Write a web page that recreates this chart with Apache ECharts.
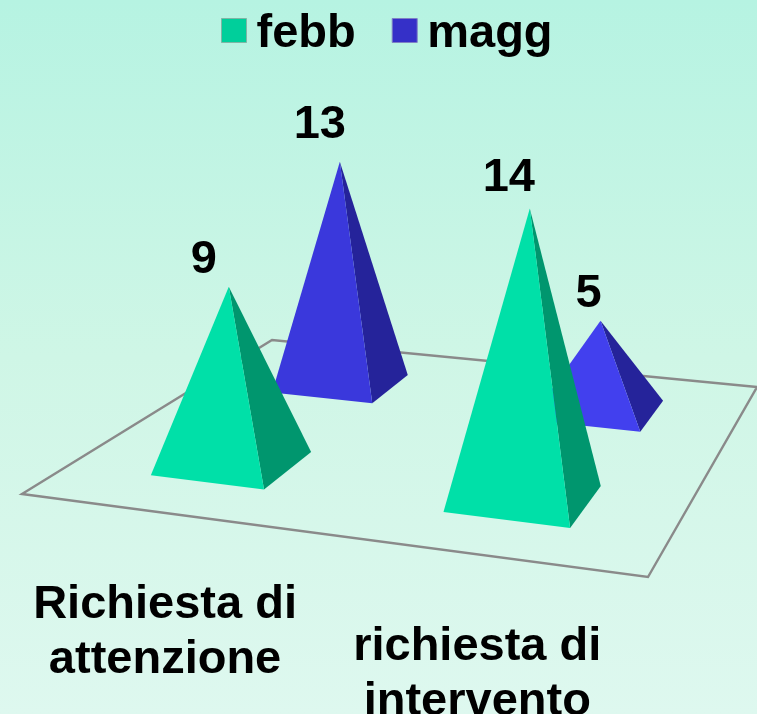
<!DOCTYPE html>
<html>
<head>
<meta charset="utf-8">
<style>html,body{margin:0;padding:0;background:#cff6e6}#c{width:757px;height:714px}</style>
<script src="https://cdn.jsdelivr.net/npm/echarts@6/dist/echarts.min.js"></script>
</head>
<body>
<div id="c"></div>
<script>
var categories = ['Richiesta di\nattenzione', 'richiesta di\nintervento'];
var febb = [9, 14];
var magg = [13, 5];

var chart = echarts.init(document.getElementById('c'), null, {renderer: 'canvas'});
var FONT = 'bold 47px "Liberation Sans", Arial, sans-serif';

// perspective floor: unit square -> picture quad
var Q = {fl: [22, 494], fr: [648, 577], br: [757, 387], bl: [272, 340]};
function makeProjection(q) {
  var dx1 = q.fr[0] - q.br[0], dx2 = q.bl[0] - q.br[0], sx = q.fl[0] - q.fr[0] + q.br[0] - q.bl[0];
  var dy1 = q.fr[1] - q.br[1], dy2 = q.bl[1] - q.br[1], sy = q.fl[1] - q.fr[1] + q.br[1] - q.bl[1];
  var det = dx1 * dy2 - dx2 * dy1;
  var g = (sx * dy2 - dx2 * sy) / det, h = (dx1 * sy - sx * dy1) / det;
  var a = q.fr[0] - q.fl[0] + g * q.fr[0], b = q.bl[0] - q.fl[0] + h * q.bl[0];
  var d = q.fr[1] - q.fl[1] + g * q.fr[1], e = q.bl[1] - q.fl[1] + h * q.bl[1];
  return function (s, t) {
    var w = g * s + h * t + 1;
    return {x: (a * s + b * t + q.fl[0]) / w, y: (d * s + e * t + q.fl[1]) / w, scale: 1 / w};
  };
}
var project = makeProjection(Q);
function pt(p) { return [p.x, p.y]; }

var HALF = 0.1;
var SPLAY = 1.45e-4;   // verticals lean outward from the picture's centre
var CENTRE_X = 380;

function pyramidRenderer(depth, fronts, side, labelDx, labelDy) {
  return function (params, api) {
    var i = api.value(0), val = api.value(1);
    var cs = params.coordSys;
    var s = (api.coord([i, 0])[0] - cs.x) / cs.width;
    var c = project(s, depth);
    var h = api.size([0, val])[1] * c.scale;
    var apex = [c.x + (c.x - CENTRE_X) * h * SPLAY, c.y - h];
    var fl = project(s - HALF, depth - HALF), fr = project(s + HALF, depth - HALF), br = project(s + HALF, depth + HALF);
    return {
      type: 'group',
      children: [
        {type: 'polygon', shape: {points: [pt(fr), pt(br), apex]}, style: {fill: side}},
        {type: 'polygon', shape: {points: [pt(fl), pt(fr), apex]}, style: {fill: fronts[i]}},
        {type: 'text', style: {text: String(val), x: apex[0] + labelDx[i], y: apex[1] + labelDy[i], align: 'center', verticalAlign: 'middle', font: FONT, fill: '#000'}}
      ]
    };
  };
}

var option = {
  animation: false,
  backgroundColor: {
    type: 'linear', x: 0, y: 0, x2: 0, y2: 1,
    colorStops: [{offset: 0, color: '#b6f3e2'}, {offset: 0.5, color: '#cff6e6'}, {offset: 1, color: '#def8ef'}]
  },
  grid: {left: 0, right: 0, top: 0, bottom: 0},
  xAxis: {type: 'category', data: categories, show: false},
  yAxis: {type: 'value', min: 0, max: 34.6, show: false},
  legend: {
    left: 216, top: 11, padding: [0, 5, 5, 5],
    itemWidth: 25, itemHeight: 24, itemGap: 36,
    formatter: '{t|{name}}',
    textStyle: {
      fontFamily: '"Liberation Sans", Arial, sans-serif', fontWeight: 'bold', fontSize: 47, color: '#000',
      rich: {t: {fontFamily: '"Liberation Sans", Arial, sans-serif', fontWeight: 'bold', fontSize: 47, color: '#000', padding: [8, 0, 0, 5]}}
    },
    data: [
      {name: 'febb', icon: 'rect', itemStyle: {color: '#00cf9b', borderColor: '#7fb5a5', borderWidth: 1}},
      {name: 'magg', icon: 'rect', itemStyle: {color: '#3530c8', borderColor: '#7f80c5', borderWidth: 1}}
    ]
  },
  series: [
    {
      name: 'floor', type: 'custom', silent: true, clip: false,
      data: [[0, 0]],
      encode: {x: 0, y: 1},
      renderItem: function () {
        return {type: 'polygon', shape: {points: [Q.fl, Q.fr, Q.br, Q.bl]}, style: {fill: 'rgba(0,0,0,0)', stroke: '#8a8a8a', lineWidth: 2.4}};
      }
    },
    {
      name: 'magg', type: 'custom', silent: true, clip: false,
      itemStyle: {color: '#3530c8'},
      encode: {x: 0, y: 1},
      data: magg.map(function (v, i) { return [i, v]; }),
      renderItem: pyramidRenderer(0.75, ['#3a38dc', '#4240ee'], '#25239a', [-20, -12], [-37, -27])
    },
    {
      name: 'febb', type: 'custom', silent: true, clip: false,
      itemStyle: {color: '#00cf9b'},
      encode: {x: 0, y: 1},
      data: febb.map(function (v, i) { return [i, v]; }),
      renderItem: pyramidRenderer(0.25, ['#00e0a8', '#00e0a8'], '#00966e', [-25, -21], [-27, -30])
    },
    {
      name: 'labels', type: 'custom', silent: true, clip: false,
      encode: {x: 0, y: 1},
      data: categories.map(function (c, i) { return [i, 0]; }),
      renderItem: function (params, api) {
        var i = api.value(0), cs = params.coordSys;
        var s = (api.coord([i, 0])[0] - cs.x) / cs.width;
        var p = project(s, 0);
        return {type: 'text', style: {text: categories[i], x: p.x, y: p.y + 120, align: 'center', verticalAlign: 'middle', font: FONT, lineHeight: 55, fill: '#000'}};
      }
    }
  ]
};
chart.setOption(option);
</script>
</body>
</html>
